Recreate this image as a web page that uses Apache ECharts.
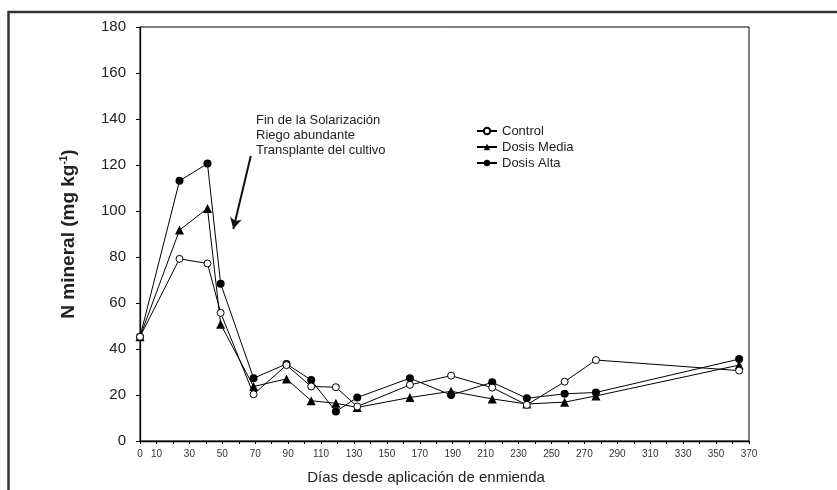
<!DOCTYPE html>
<html>
<head>
<meta charset="utf-8">
<script src="https://cdn.jsdelivr.net/npm/echarts@6/dist/echarts.min.js"></script>
<style>
html,body{margin:0;padding:0;background:#fff;}
#chart{width:837px;height:490px;}
</style>
</head>
<body>
<div id="chart"></div>
<script>
// ---- data ----
const days = [0, 24, 41, 49, 69, 89, 104, 119, 132, 164, 189, 214, 235, 258, 277, 364];
const control = [45.3, 79.2, 77.2, 55.7, 20.3, 33.0, 23.7, 23.4, 15.0, 24.4, 28.4, 23.2, 15.7, 25.8, 35.2, 30.6];
const dosisMedia = [45.3, 91.7, 101.1, 50.8, 23.7, 27.0, 17.5, 16.4, 14.6, 18.9, 21.6, 18.3, 16.1, 16.9, 19.6, 33.0];
const dosisAlta = [45.3, 113.1, 120.6, 68.4, 27.3, 33.5, 26.5, 12.8, 18.9, 27.3, 20.0, 25.5, 18.6, 20.5, 21.1, 35.6];
const seriesNames = ['Control', 'Dosis Media', 'Dosis Alta'];
const yTicks = [0, 20, 40, 60, 80, 100, 120, 140, 160, 180];
const xTickLabels = [0, 10, 30, 50, 70, 90, 110, 130, 150, 170, 190, 210, 230, 250, 270, 290, 310, 330, 350, 370];
const annotationLines = ['Fin de la Solarización', 'Riego abundante', 'Transplante del cultivo'];
const xTitle = 'Días desde aplicación de enmienda';

const FONT = '"Liberation Sans", Arial, Helvetica, sans-serif';
const pairs = vals => days.map((d, i) => [d, vals[i]]);

const chart = echarts.init(document.getElementById('chart'), null, {renderer: 'canvas'});

const option = {
  animation: false,
  backgroundColor: '#fff',
  textStyle: {fontFamily: FONT},
  grid: {left: 140, top: 27, right: 88, bottom: 47, show: true, borderColor: '#000', borderWidth: 1, backgroundColor: 'transparent'},
  legend: {
    orient: 'vertical',
    left: 471, top: 119,
    itemWidth: 20, itemHeight: 8, itemGap: 2,
    textStyle: {fontSize: 13, color: '#222', fontFamily: FONT, lineHeight: 14},
    data: seriesNames
  },
  xAxis: {
    type: 'value', min: 0, max: 370, interval: 10,
    name: xTitle, nameLocation: 'middle', nameGap: 29,
    nameTextStyle: {fontSize: 15, color: '#222', fontFamily: FONT, padding: [0, 37, 0, 0]},
    axisLine: {lineStyle: {color: '#000', width: 1.3}},
    axisTick: {show: true, length: 3, lineStyle: {color: '#000'}},
    axisLabel: {
      fontSize: 10, color: '#333', margin: 8, fontFamily: FONT,
      formatter: v => xTickLabels.indexOf(v) >= 0 ? String(v) : ''
    },
    splitLine: {show: false}
  },
  yAxis: {
    type: 'value', min: 0, max: 180, interval: 20,
    name: '{b|N mineral (mg kg}{s|-1}{b|)}', nameLocation: 'middle', nameGap: 62,
    nameTextStyle: {
      rich: {
        b: {fontSize: 19, fontWeight: 'bold', color: '#222', fontFamily: FONT},
        s: {fontSize: 10, fontWeight: 'bold', color: '#222', fontFamily: FONT, padding: [0, 0, 9, 0]}
      }
    },
    axisLine: {lineStyle: {color: '#000', width: 1.3}},
    axisTick: {show: true, length: 4, lineStyle: {color: '#000'}},
    axisLabel: {
      fontSize: 15, color: '#222', margin: 14, fontFamily: FONT,
      formatter: v => yTicks.indexOf(v) >= 0 ? String(v) : ''
    },
    splitLine: {show: false}
  },
  series: [
    {
      name: seriesNames[0], type: 'line', data: pairs(control),
      symbol: 'circle', symbolSize: 7,
      itemStyle: {color: '#fff', borderColor: '#000', borderWidth: 1},
      lineStyle: {color: '#000', width: 1}, z: 3
    },
    {
      name: seriesNames[1], type: 'line', data: pairs(dosisMedia),
      symbol: 'triangle', symbolSize: 9,
      itemStyle: {color: '#000', borderColor: '#000', borderWidth: 0},
      lineStyle: {color: '#000', width: 1}, z: 2
    },
    {
      name: seriesNames[2], type: 'line', data: pairs(dosisAlta),
      symbol: 'circle', symbolSize: 8,
      itemStyle: {color: '#000', borderColor: '#000', borderWidth: 0},
      lineStyle: {color: '#000', width: 1}, z: 2,
      markLine: {
        silent: true,
        symbol: ['none', 'arrow'], symbolSize: [9, 11],
        label: {show: false},
        lineStyle: {color: '#111', width: 2, type: 'solid'},
        data: [[{coord: [67.3, 123.9]}, {coord: [56.7, 92.2]}]]
      }
    }
  ],
  graphic: [
    {
      type: 'rect', silent: true, z: 100,
      shape: {x: 8.5, y: 12, width: 1000, height: 1000},
      style: {fill: 'none', stroke: '#333', lineWidth: 2.5}
    },
    {
      type: 'text', left: 256, top: 113, silent: true,
      style: {text: annotationLines.join('\n'), fontSize: 13, lineHeight: 15, fill: '#222', fontFamily: FONT}
    }
  ]
};
chart.setOption(option);
</script>
</body>
</html>
